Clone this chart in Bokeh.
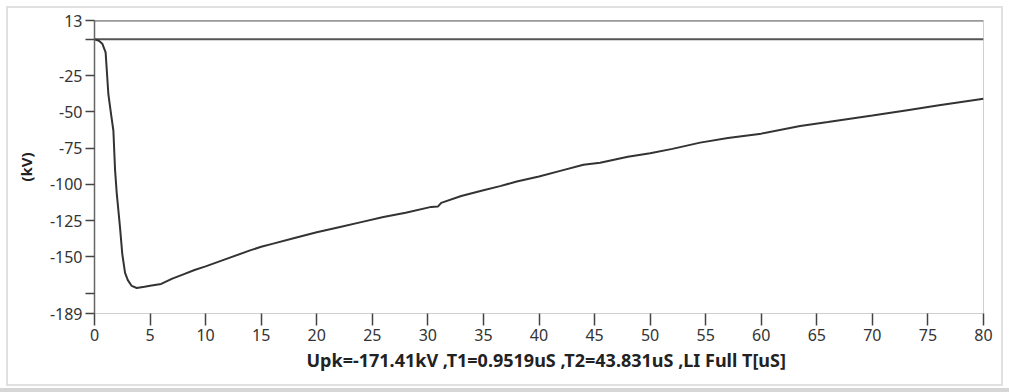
from bokeh.plotting import figure
from bokeh.models import FixedTicker, Range1d, Span, Title
from bokeh.embed import file_html
from bokeh.resources import INLINE

# Lightning impulse record: time in microseconds, voltage in kV
time_us = [0, 0.4, 0.7, 1.0, 1.25, 1.5, 1.7, 1.85, 2.0, 2.3, 2.5, 2.75, 3.0,
           3.35, 3.8, 4.5, 5.0, 6, 7, 8, 9, 10, 12, 14, 15, 16, 18, 20, 22,
           24, 26, 28, 30.3, 30.9, 31.2, 33, 35, 36.5, 38, 40, 42, 44, 45.5,
           48, 50, 52, 54.5, 57, 60, 63.5, 66, 70, 73, 76, 80]
voltage_kv = [0, -1, -3, -9, -38, -52, -63, -90, -106, -130, -148, -161, -166,
              -170, -171.41, -170.6, -169.8, -168.6, -165, -162, -159, -156.5,
              -151, -145.5, -143, -141, -137, -133, -129.5, -126, -122.5,
              -119.5, -115.5, -115.3, -112.7, -108, -104, -101.2, -98, -94.5,
              -90.5, -86.5, -85, -81, -78.5, -75.5, -71.2, -68, -65, -59.7,
              -57, -52.5, -49, -45.5, -41]

# Reference (zero) trace
ref_time = [0, 80]
ref_kv = [0, 0]

x_ticks = list(range(0, 81, 5))
y_ticks = [13, 0, -25, -50, -75, -100, -125, -150, -175, -189]
y_tick_text = ["13", "", "-25", "-50", "-75", "-100", "-125", "-150", "", "-189"]

caption = "Upk=-171.41kV ,T1=0.9519uS ,T2=43.831uS ,LI Full  T[uS]"

p = figure(width=1009, height=392, output_backend="svg", toolbar_location=None,
           x_range=Range1d(0, 80), y_range=Range1d(-189, 13),
           min_border_left=94, min_border_right=26, min_border_top=20,
           min_border_bottom=79)
p.grid.visible = False
p.background_fill_color = "white"
p.border_fill_color = None
p.outline_line_color = "#cfcfcf"
p.outline_line_width = 1
# light window frame around the whole panel
p.styles = {
    "background-color": "white",
    "outline": "2px solid #e0e0e0",
    "outline-offset": "-8px",
    "box-shadow": "inset 0 -4px 0 #d6d6d6",
}

font = "Noto Sans"

xa = p.xaxis[0]
xa.ticker = FixedTicker(ticks=x_ticks)
xa.axis_line_color = "#cfcfcf"
xa.major_tick_in = 0
xa.major_tick_out = 12
xa.major_tick_line_color = "#444444"
xa.major_tick_line_width = 1.5
xa.minor_tick_line_color = None
xa.major_label_text_font = font
xa.major_label_text_font_size = "16px"
xa.major_label_text_color = "#333333"
xa.major_label_standoff = 3

ya = p.yaxis[0]
ya.ticker = FixedTicker(ticks=y_ticks)
ya.major_label_overrides = {t: s for t, s in zip(y_ticks, y_tick_text)}
ya.axis_line_color = "#666666"
ya.axis_line_width = 1.5
ya.major_tick_in = 0
ya.major_tick_out = 9
ya.major_tick_line_color = "#444444"
ya.major_tick_line_width = 1.5
ya.minor_tick_line_color = None
ya.major_label_text_font = font
ya.major_label_text_font_size = "16px"
ya.major_label_text_color = "#333333"
ya.major_label_standoff = 3
ya.axis_label = "(kV)"
ya.axis_label_text_font = font
ya.axis_label_text_font_size = "15px"
ya.axis_label_text_font_style = "bold"
ya.axis_label_text_color = "#222222"
ya.axis_label_standoff = 11

# caption line under the time axis
p.add_layout(Title(text=caption, align="left", offset=212, standoff=4,
                   text_font=font, text_font_size="18px",
                   text_font_style="bold", text_color="#222222"), "below")

# top edge of the plotting area
p.add_layout(Span(location=13, dimension="width", line_color="#666666",
                  line_width=2))

p.line(ref_time, ref_kv, line_color="#555555", line_width=2)
p.line(time_us, voltage_kv, line_color="#333333", line_width=2)

open("out.html", "w").write(file_html(p, INLINE))
